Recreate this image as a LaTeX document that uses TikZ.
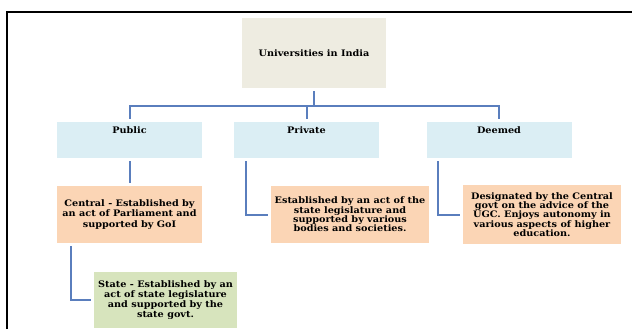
\documentclass[tikz,border=0pt]{standalone}
\usepackage{fontspec}
\setmainfont{DejaVu Serif}[FakeStretch=1.08]
\usepackage{tikz}

\definecolor{headfill}{HTML}{EEECE1}
\definecolor{typefill}{HTML}{DBEEF4}
\definecolor{descfill}{HTML}{FBD5B5}
\definecolor{statefill}{HTML}{D7E4BD}
\definecolor{linkblue}{HTML}{5A7EBD}

\begin{document}
\begin{tikzpicture}[x=1bp, y=-1bp,
    every node/.style={font=\fontsize{9}{9.4}\selectfont\bfseries, align=center, inner sep=0pt},
    headbox/.style={fill=headfill, minimum width=144bp, minimum height=70bp},
    typebox/.style={fill=typefill, anchor=north, minimum width=145bp, text height=7bp, text depth=20bp, inner ysep=4.5bp},
    descbox/.style={fill=descfill, minimum height=57bp},
    wideleading/.style={font=\fontsize{9}{10.2}\selectfont\bfseries},
    link/.style={draw=linkblue, line width=2bp, shorten <=3bp, shorten >=3bp}]
        \useasboundingbox (0,0) rectangle (632,329);
        \draw[line width=2.5bp] (7,329) -- (7,12) -- (632,12);

        \node[headbox] (univ) at (314,53) {Universities in India};

        \node[typebox] (public) at (129.5,122) {Public};
        \node[typebox] (private) at (306.5,122) {Private};
        \node[typebox] (deemed) at (499,122) {Deemed};

        \draw[link] (univ.south) -- ++(0,18) -| (public.north);
        \draw[link] (univ.south) -- ++(0,18) -| (private.north);
        \draw[link] (univ.south) -- ++(0,18) -| (deemed.north);

        \node[descbox, wideleading, minimum width=145bp] (central) at (129.5,214.5) {Central - Established by\\an act of Parliament and\\supported by GoI};
        \node[descbox, minimum width=158bp] (privdesc) at (350,214.5) {Established by an act of the\\state legislature and\\supported by various\\bodies and societies.};
        \node[descbox, minimum width=158bp, minimum height=59bp] (deemdesc) at (542,214.5) {Designated by the Central\\govt on the advice of the\\UGC. Enjoys autonomy in\\various aspects of higher\\education.};
        \node[fill=statefill, wideleading, minimum width=143bp, minimum height=56bp] (state) at (165.5,300) {State - Established by an\\act of state legislature\\and supported by the\\state govt.};

        \draw[link] (public.south) -- (central.north);
        \draw[link] ([xshift=14bp]central.south west) |- (state.west);
        \draw[link] ([xshift=12bp]private.south west) |- (privdesc.west);
        \draw[link] ([xshift=12bp]deemed.south west) |- (deemdesc.west);
\end{tikzpicture}
\end{document}
